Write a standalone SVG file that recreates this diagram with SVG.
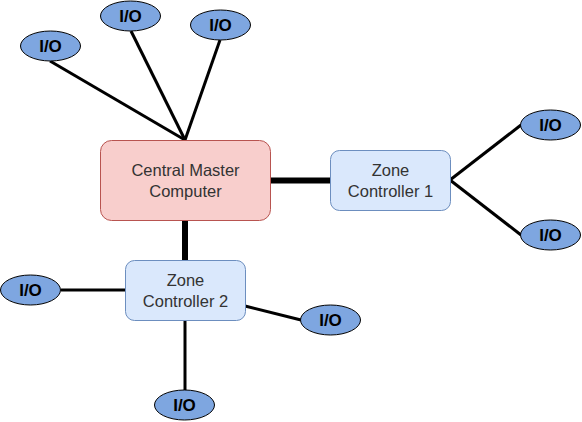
<svg xmlns="http://www.w3.org/2000/svg" width="582" height="422" viewBox="0 0 582 422">
<style>
.io ellipse{fill:#7ea6e0;stroke:#000;stroke-width:1}
.io text{font-family:"Liberation Sans",Arial,sans-serif;font-size:17px;font-weight:bold;fill:#000;text-anchor:middle}
.box text{font-family:"Liberation Sans",Arial,sans-serif;font-size:16.5px;fill:#333;text-anchor:middle}
.zc rect{fill:#dae8fc;stroke:#6c8ebf;stroke-width:1}
.cm rect{fill:#f8cecc;stroke:#b85450;stroke-width:1}
.thin{stroke:#000;stroke-width:3;fill:none}
.thick{stroke:#000;stroke-width:6;fill:none}
</style>
<rect width="582" height="422" fill="#fff"/>
<g id="connectors">
<line class="thin" x1="50" y1="61" x2="185" y2="140"/>
<line class="thin" x1="131" y1="31" x2="185" y2="140"/>
<line class="thin" x1="220" y1="40" x2="185" y2="140"/>
<line class="thick" x1="270" y1="180.5" x2="330" y2="180.5"/>
<line class="thick" x1="185" y1="220" x2="185" y2="260"/>
<line class="thin" x1="450" y1="180" x2="521" y2="125"/>
<line class="thin" x1="450" y1="180" x2="521" y2="235"/>
<line class="thin" x1="61" y1="290" x2="125" y2="290"/>
<line class="thin" x1="245" y1="306" x2="301" y2="320"/>
<line class="thin" x1="185" y1="320" x2="185" y2="390"/>
</g>
<g id="cmc" class="box cm">
<rect x="100.5" y="140.5" width="170" height="80" rx="11"/>
<text x="185.5" y="175.5">Central Master</text>
<text x="185.5" y="196.5">Computer</text>
</g>
<g id="zc1" class="box zc">
<rect x="330.5" y="150.5" width="120" height="60" rx="9"/>
<text x="390.5" y="175.5">Zone</text>
<text x="390.5" y="196.5">Controller 1</text>
</g>
<g id="zc2" class="box zc">
<rect x="125.5" y="260.5" width="120" height="60" rx="9"/>
<text x="185.5" y="285.5">Zone</text>
<text x="185.5" y="306.5">Controller 2</text>
</g>
<g id="io1" class="io"><ellipse cx="50.5" cy="46" rx="30" ry="15"/><text x="50.5" y="52">I/O</text></g>
<g id="io2" class="io"><ellipse cx="130.5" cy="16" rx="30" ry="15"/><text x="130.5" y="22">I/O</text></g>
<g id="io3" class="io"><ellipse cx="220.5" cy="25" rx="30" ry="15"/><text x="220.5" y="31">I/O</text></g>
<g id="io4" class="io"><ellipse cx="550.5" cy="125" rx="30" ry="15"/><text x="550.5" y="131">I/O</text></g>
<g id="io5" class="io"><ellipse cx="550.5" cy="235" rx="30" ry="15"/><text x="550.5" y="241">I/O</text></g>
<g id="io6" class="io"><ellipse cx="30.5" cy="290" rx="30" ry="15"/><text x="30.5" y="296">I/O</text></g>
<g id="io7" class="io"><ellipse cx="330.5" cy="320" rx="30" ry="15"/><text x="330.5" y="326">I/O</text></g>
<g id="io8" class="io"><ellipse cx="184.5" cy="405" rx="30" ry="15"/><text x="184.5" y="411">I/O</text></g>
</svg>
